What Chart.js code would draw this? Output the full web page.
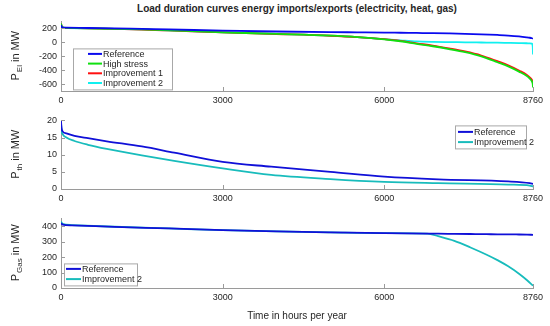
<!DOCTYPE html>
<html>
<head>
<meta charset="utf-8">
<script src="https://cdn.jsdelivr.net/npm/chart.js@4"></script>
<style>
  body { margin: 0; background: #fff; }
  #wrap { position: relative; width: 550px; height: 326px; font-family: 'Liberation Sans', Arial, sans-serif; }
  canvas { position: absolute; left: 0; }
  .txt { position: absolute; color: #262626; white-space: nowrap; transform: translateX(-50%); }
</style>
</head>
<body>
<div id="wrap">
  <div class="txt" style="left:297px; top:3px; font-size:10px; font-weight:bold;">Load duration curves energy imports/exports (electricity, heat, gas)</div>
  <canvas id="elChart" style="top:12px" width="550" height="101"></canvas>
  <canvas id="thChart" style="top:111px" width="550" height="100"></canvas>
  <canvas id="gasChart" style="top:209px" width="550" height="101"></canvas>
  <div class="txt" style="left:297px; top:310px; font-size:10px;">Time in hours per year</div>
</div>
<script>
'use strict';
// x axis
let xTicks = [0, 3000, 6000, 8760];

// electricity imports/exports (MW)
let hoursEl = [0, 20, 100, 500, 1000, 1500, 2000, 3000, 4000, 5000, 5500, 6000, 6300, 6600, 6900, 7200, 7500, 7800, 8100, 8300, 8500, 8640, 8700, 8740, 8755, 8760];
let refEl = [245, 215, 210, 205, 200, 192, 185, 167, 155, 146, 143, 140, 137, 134, 131, 127, 122, 115, 105, 97, 85, 72, 65, 58, 54, 52];
let highEl = [270, 218, 208, 200, 193, 184, 171, 143, 120, 95, 75, 43, 15, -22, -57, -97, -142, -202, -287, -347, -422, -482, -522, -562, -602, -650];
let imp1El = [268, 216, 206, 199, 192, 183, 170, 142, 119, 94, 74, 44, 20, -15, -48, -88, -132, -190, -272, -330, -405, -465, -505, -540, -570, -610];
let imp2El = [265, 212, 205, 200, 192, 184, 170, 143, 120, 95, 75, 45, 28, 12, 5, 2, 0, -3, -6, -9, -12, -14, -16, -20, -60, -175];
let elTicks = [-600, -400, -200, 0, 200];

// heat (MW)
let hoursTh = [0, 10, 30, 100, 250, 500, 850, 1500, 2100, 3000, 3900, 5000, 6000, 7000, 8300, 8700, 8760];
let refTh = [19.8, 17.8, 16.8, 16.2, 15.5, 14.8, 13.9, 12.4, 10.6, 7.9, 6.5, 5.0, 3.6, 2.8, 2.2, 1.7, 1.5];
let imp2Th = [19.5, 17.0, 16.0, 15.0, 14.0, 12.9, 11.7, 9.8, 8.2, 6.0, 4.1, 2.9, 2.1, 1.7, 1.3, 1.0, 0.8];
let thTicks = [0, 5, 10, 15, 20];

// gas (MW)
let hoursGas = [0, 30, 200, 1000, 2000, 3000, 4000, 5000, 6000, 6800, 7000, 7300, 7600, 7900, 8100, 8300, 8500, 8650, 8760];
let refGas = [420, 410, 405, 395, 385, 374, 366, 360, 355, 352, 351, 350, 349, 348, 347, 347, 346, 345, 344];
let imp2Gas = [430, 415, 407, 396, 385, 374, 366, 360, 355, 352, 335, 305, 262, 215, 180, 140, 92, 50, 15];
let gasTicks = [0, 100, 200, 300, 400];

Chart.defaults.font.family = "'Liberation Sans', Arial, sans-serif";
Chart.defaults.animation = false;

function pts(xs, ys) {
  return xs.map((x, i) => ({ x: x, y: ys[i] }));
}

function line(label, xs, ys, color) {
  return {
    label: label,
    data: pts(xs, ys),
    borderColor: color,
    backgroundColor: color,
    borderWidth: 1.8,
    pointRadius: 0,
    tension: 0,
    cubicInterpolationMode: 'monotone'
  };
}

// y label with subscript, like "P_El in MW"
let yLabelPlugin = {
  id: 'yLabel',
  afterDraw(chart, args, opts) {
    let ctx = chart.ctx;
    let a = chart.chartArea;
    ctx.save();
    ctx.translate(opts.x, (a.top + a.bottom) / 2);
    ctx.rotate(-Math.PI / 2);
    ctx.fillStyle = '#262626';
    ctx.textBaseline = 'middle';
    ctx.font = "11px 'Liberation Sans', Arial, sans-serif";
    let w1 = ctx.measureText('P').width;
    let w3 = ctx.measureText(' in MW').width;
    ctx.font = "8px 'Liberation Sans', Arial, sans-serif";
    let w2 = ctx.measureText(opts.sub).width;
    let x = -(w1 + w2 + w3) / 2;
    ctx.font = "11px 'Liberation Sans', Arial, sans-serif";
    ctx.fillText('P', x, 0);
    ctx.font = "8px 'Liberation Sans', Arial, sans-serif";
    ctx.fillText(opts.sub, x + w1 + 1, 4);
    ctx.font = "11px 'Liberation Sans', Arial, sans-serif";
    ctx.fillText(' in MW', x + w1 + w2 + 1, 0);
    ctx.restore();
  }
};

// inward tick marks
let innerTicks = {
  id: 'innerTicks',
  afterDraw(chart) {
    let ctx = chart.ctx;
    let a = chart.chartArea;
    ctx.save();
    ctx.strokeStyle = '#9a9a9a';
    ctx.lineWidth = 1;
    ctx.beginPath();
    chart.scales.x.ticks.forEach(t => {
      let px = Math.round(chart.scales.x.getPixelForValue(t.value)) + 0.5;
      ctx.moveTo(px, a.bottom);
      ctx.lineTo(px, a.bottom - 4);
    });
    chart.scales.y.ticks.forEach(t => {
      let py = Math.round(chart.scales.y.getPixelForValue(t.value)) + 0.5;
      ctx.moveTo(a.left, py);
      ctx.lineTo(a.left + 4, py);
    });
    ctx.stroke();
    ctx.restore();
  }
};

// boxed legend inside the axes
let boxLegend = {
  id: 'boxLegend',
  afterDraw(chart, args, o) {
    let ctx = chart.ctx;
    let a = chart.chartArea;
    let x0 = a.left + o.dx;
    let y0 = a.top + o.dy;
    let sets = chart.data.datasets;
    ctx.save();
    ctx.fillStyle = '#fff';
    ctx.fillRect(x0, y0, o.w, o.h);
    ctx.strokeStyle = '#a8a8a8';
    ctx.lineWidth = 1;
    ctx.strokeRect(x0 + 0.5, y0 + 0.5, o.w, o.h);
    ctx.font = "9px 'Liberation Sans', Arial, sans-serif";
    ctx.textBaseline = 'middle';
    sets.forEach((ds, i) => {
      let y = y0 + o.first + i * o.row;
      ctx.strokeStyle = ds.borderColor;
      ctx.lineWidth = 2;
      ctx.beginPath();
      ctx.moveTo(x0 + o.lx, y);
      ctx.lineTo(x0 + o.lx + o.len, y);
      ctx.stroke();
      ctx.fillStyle = '#262626';
      ctx.fillText(ds.label, x0 + o.lx + o.len + 1, y + 0.5);
    });
    ctx.restore();
  }
};

function makeChart(id, datasets, yMin, yMax, yTicks, sub, legend) {
  let ctx = document.getElementById(id).getContext('2d');
  return new Chart(ctx, {
    type: 'line',
    data: { datasets: datasets },
    options: {
      responsive: false,
      layout: { padding: { left: 0, right: 17, top: 8, bottom: 0 } },
      plugins: {
        legend: { display: false },
        tooltip: { enabled: false },
        yLabel: { x: 16, sub: sub },
        boxLegend: legend
      },
      scales: {
        x: {
          type: 'linear',
          min: 0,
          max: 8760,
          afterBuildTicks: s => { s.ticks = xTicks.map(v => ({ value: v })); },
          afterFit: s => { s.height = 22; },
          grid: { display: false, drawTicks: false },
          border: { display: true, color: '#9a9a9a' },
          ticks: { padding: 4, color: '#262626', font: { size: 9 }, maxRotation: 0, autoSkip: false, callback: v => String(v) }
        },
        y: {
          type: 'linear',
          min: yMin,
          max: yMax,
          afterBuildTicks: s => { s.ticks = yTicks.map(v => ({ value: v })); },
          afterFit: s => { s.width = 61; },
          grid: { display: false, drawTicks: false },
          border: { display: true, color: '#9a9a9a' },
          ticks: { padding: 4, color: '#262626', font: { size: 9 }, autoSkip: false, callback: v => String(v) }
        }
      }
    },
    plugins: [innerTicks, boxLegend, yLabelPlugin]
  });
}

makeChart('elChart', [
  line('Reference', hoursEl, refEl, '#0a0aee'),
  line('High stress', hoursEl, highEl, '#10e010'),
  line('Improvement 1', hoursEl, imp1El, '#ff1010'),
  line('Improvement 2', hoursEl, imp2El, '#10f0f0')
], -700, 300, elTicks, 'El', { dx: 12, dy: 27, w: 99, h: 41, first: 5.5, row: 9.7, lx: 15, len: 14 });

makeChart('thChart', [
  line('Reference', hoursTh, refTh, '#1010d8'),
  line('Improvement 2', hoursTh, imp2Th, '#18bcbc')
], 0, 20, thTicks, 'th', { dx: 394, dy: 5, w: 71, h: 23, first: 6.5, row: 10.2, lx: 3, len: 15 });

makeChart('gasChart', [
  line('Reference', hoursGas, refGas, '#1010d8'),
  line('Improvement 2', hoursGas, imp2Gas, '#18bcbc')
], 0, 450, gasTicks, 'Gas', { dx: 3, dy: 45, w: 73, h: 22, first: 5.5, row: 10.2, lx: 2, len: 15 });
</script>
</body>
</html>
